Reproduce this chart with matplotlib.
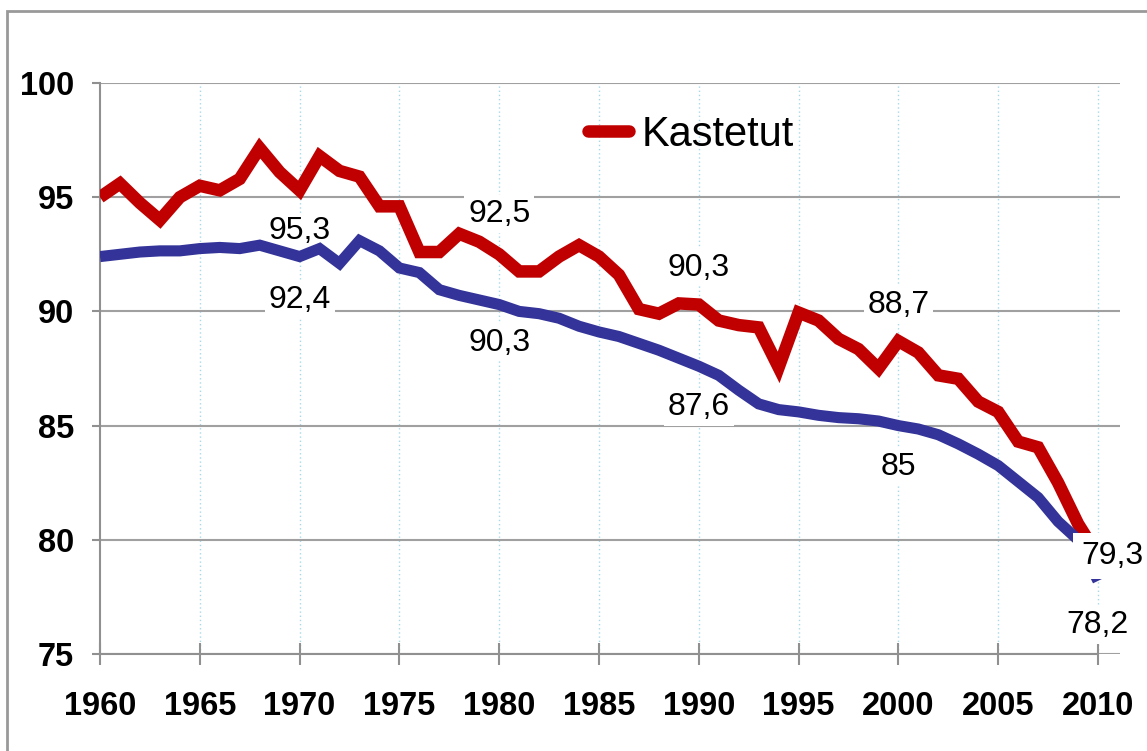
import matplotlib.pyplot as plt
from matplotlib.patches import Rectangle
import numpy as np

years = np.arange(1960, 2011)

kastetut = [95.0, 95.6, 94.75, 94.0, 95.0, 95.5, 95.3, 95.8, 97.15, 96.1,
            95.3, 96.8, 96.15, 95.9, 94.6, 94.6, 92.6, 92.6, 93.4, 93.05,
            92.5, 91.75, 91.75, 92.4, 92.9, 92.4, 91.6, 90.1, 89.9, 90.35,
            90.3, 89.6, 89.4, 89.3, 87.55, 89.95, 89.6, 88.8, 88.35, 87.5,
            88.7, 88.2, 87.2, 87.05, 86.05, 85.6, 84.3, 84.05, 82.5, 80.7,
            79.3]

sininen = [92.4, 92.5, 92.6, 92.65, 92.65, 92.75, 92.8, 92.75, 92.9, 92.65,
           92.4, 92.75, 92.1, 93.1, 92.65, 91.9, 91.7, 90.95, 90.7, 90.5,
           90.3, 90.0, 89.9, 89.7, 89.35, 89.1, 88.9, 88.6, 88.3, 87.95,
           87.6, 87.2, 86.55, 85.95, 85.7, 85.6, 85.45, 85.35, 85.3, 85.2,
           85.0, 84.85, 84.6, 84.2, 83.75, 83.25, 82.55, 81.85, 80.8, 80.0,
           78.2]

# labelled points: (year, text, offset below the point in px)
red_labels = [(1970, "95,3", 41), (1980, "92,5", -40), (1990, "90,3", -37),
              (2000, "88,7", -36)]
blue_labels = [(1970, "92,4", 43), (1980, "90,3", 38), (1990, "87,6", 41),
               (2000, "85", 41), (2010, "78,2", 44)]

W, H, DPI = 1147, 751, 100
px = 72 / DPI
FONT = 'Liberation Sans'

fig = plt.figure(figsize=(W / DPI, H / DPI), dpi=DPI)
ax = fig.add_axes([100 / W, (H - 654) / H, (1120 - 100) / W, (654 - 83) / H])

ax.plot(years, kastetut, color='#C00000', lw=9, solid_joinstyle='miter',
        solid_capstyle='butt', label='Kastetut', zorder=3)
ax.plot(years, sininen, color='#333399', lw=8, solid_joinstyle='miter',
        solid_capstyle='butt', zorder=3)

ax.set_xlim(1960, 1960 + (1120 - 100) / 19.96)
ax.set_ylim(75, 100)
ax.set_xticks(np.arange(1960, 2011, 5))
ax.set_yticks(np.arange(75, 101, 5))

ax.grid(axis='y', color='#a0a0a0', lw=1.5, zorder=1)
for x in np.arange(1965, 2011, 5):
    ax.axvline(x, color='#a8d8e8', lw=1, ls=(0, (1, 2)), zorder=1)

for s in ['top', 'right']:
    ax.spines[s].set_visible(False)
for s in ['left', 'bottom']:
    ax.spines[s].set_color('#909090')
    ax.spines[s].set_linewidth(1.5)
ax.spines['bottom'].set_bounds(1960, 2010)

ax.tick_params(axis='x', direction='inout', length=22 * px, width=1.5,
               color='#909090', pad=26 * px)
ax.tick_params(axis='y', direction='out', length=8 * px, width=1.5,
               color='#909090', pad=18 * px)
for lab in ax.get_xticklabels() + ax.get_yticklabels():
    lab.set_fontsize(23.5)
    lab.set_fontweight('bold')
    lab.set_fontfamily(FONT)

# labels sit under the lines so they only blank out the gridlines
box = dict(boxstyle='square,pad=0.12', fc='white', ec='none')
for yr, txt, off in red_labels:
    ax.annotate(txt, (yr, kastetut[yr - 1960]), xytext=(0, -off * px),
                textcoords='offset points', ha='center', va='center',
                fontsize=23, family=FONT, bbox=box, zorder=2)
for yr, txt, off in blue_labels:
    ax.annotate(txt, (yr, sininen[yr - 1960]), xytext=(0, -off * px),
                textcoords='offset points', ha='center', va='center',
                fontsize=23, family=FONT, bbox=box, zorder=2,
                annotation_clip=False)
# the last one covers the line ends
ax.annotate("79,3", (2010, kastetut[-1]), xytext=(14 * px, 0),
            textcoords='offset points', ha='center', va='center',
            fontsize=23, family=FONT,
            bbox=dict(boxstyle='square,pad=0.25', fc='white', ec='none'),
            zorder=5, annotation_clip=False)

leg = ax.legend(loc='center left', bbox_to_anchor=(0.478, 0.909),
                frameon=False, borderpad=0, borderaxespad=0,
                handlelength=1.0, handletextpad=0.3,
                prop={'family': FONT, 'size': 30})
for line in leg.get_lines():
    line.set_solid_capstyle('round')
    line.set_linewidth(9)

# outer chart frame (right and bottom edges fall outside the image)
fig.patches.append(Rectangle((7 / W, -0.1), 1.2, 1.1 - 11 / H,
                             transform=fig.transFigure, fill=False,
                             ec='#999999', lw=2))

fig.savefig('out.png', dpi=DPI)
